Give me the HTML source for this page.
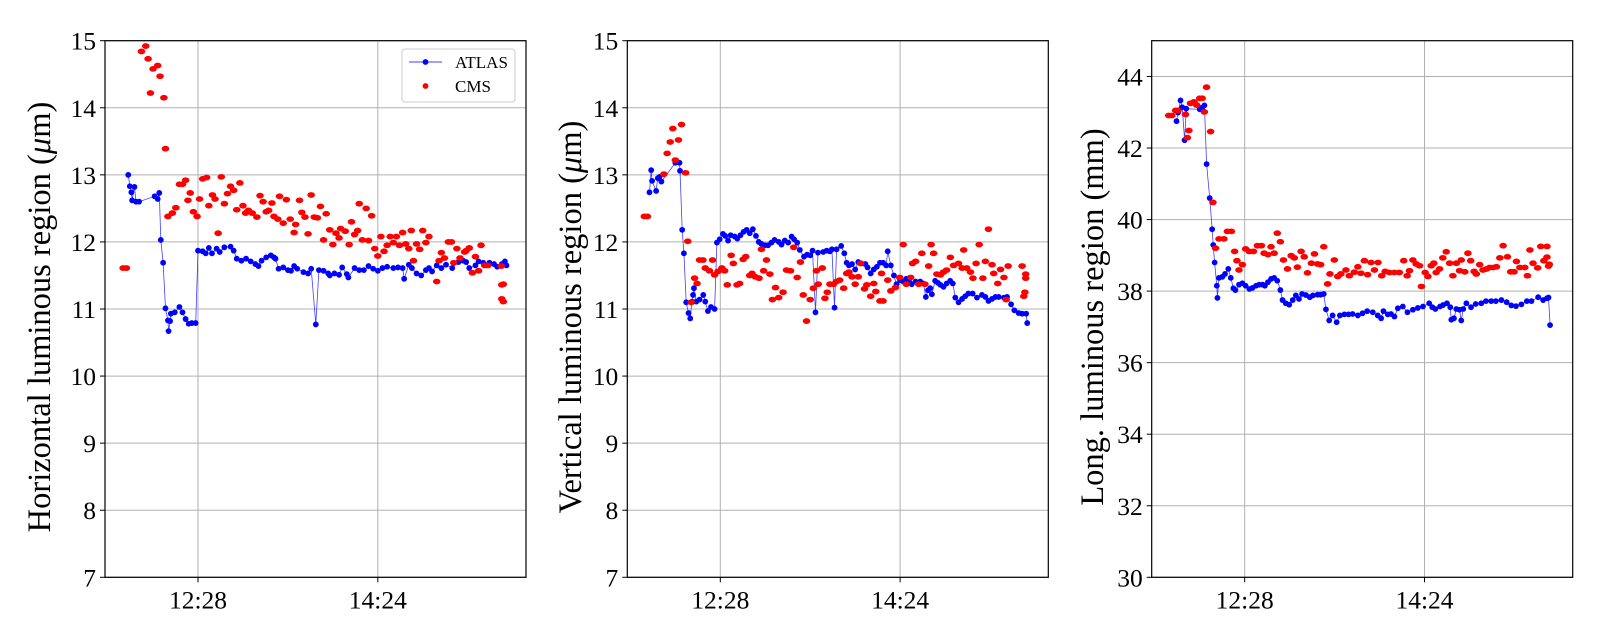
<!DOCTYPE html>
<html><head><meta charset="utf-8"><style>
html,body{margin:0;padding:0;background:#fff;}
svg{display:block;font-family:"Liberation Serif","DejaVu Serif",serif;}
</style></head><body>
<svg id="fig" width="1600" height="640" viewBox="0 0 1600 640"></svg>
<script>
// ---------- data (times in minutes since midnight) ----------
const xTickLabels = ["12:28","14:24"];
const xTickTimes = [748, 864];
const yTicksH = [7,8,9,10,11,12,13,14,15];
const yTicksV = [7,8,9,10,11,12,13,14,15];
const yTicksL = [30,32,34,36,38,40,42,44];

const hAtlasT = [703,704,705,705.5,707,708,710,720,722,723,724,725.5,727,728.6,729,730,730.5,733,736,738,740,742,744,746.5,748,751,753,755,757,760,762,765,769,771,773,776,779,782,785,787,789,792,795,797,798,800,803,806,808,810,812,816,819,821,824,826,829,832,833,836,839,841,844,845,849,852,855,858,861,864,867,870,874,877,880,881,884,886,889,892,895,897,899,902,905,908,912,916,919,921,923,927,929,932,936,939,941,944,946,947];
const hAtlasV = [13.0,12.83,12.74,12.62,12.82,12.6,12.6,12.68,12.64,12.73,12.03,11.69,11.01,10.83,10.67,10.82,10.93,10.95,11.03,10.95,10.85,10.78,10.79,10.79,11.87,11.86,11.83,11.91,11.83,11.9,11.85,11.92,11.93,11.87,11.75,11.72,11.75,11.71,11.67,11.64,11.72,11.77,11.8,11.77,11.75,11.6,11.62,11.58,11.57,11.64,11.6,11.55,11.53,11.6,10.77,11.58,11.57,11.53,11.5,11.53,11.51,11.62,11.52,11.47,11.61,11.58,11.58,11.64,11.6,11.57,11.61,11.63,11.61,11.62,11.61,11.45,11.66,11.61,11.53,11.5,11.58,11.61,11.56,11.65,11.61,11.66,11.61,11.7,11.72,11.7,11.61,11.65,11.71,11.69,11.69,11.67,11.63,11.67,11.71,11.65];
const hCmsT = [699.7,701.8,711.5,714.3,715.8,717.3,719,722,723.5,726,727,728.6,731.5,733.7,736,738,740,741.5,743,745,747.4,749,751,753.6,755,757.3,759,761,763,765,767,769,771,773,775,777,778.7,780.5,783,786,788,790,792,793.6,795.7,797,799.5,800.6,803,805,807.5,810,811,813.5,815,817,819,821,823,825,827,829,830.7,833,835,837,839,840,843,845.5,847,849,851,852,854,856.5,858,860,862,864,866,868,870,872,874,876,878,880,882,884,885.6,887,889,891,893,895,897,902,903.5,905,907,909.5,911.5,913,915,917,920,921,923,925,927,929,930.6,933,935,943.6,944,945,944,945];
const hCmsV = [11.61,11.61,14.84,14.92,14.73,14.22,14.58,14.63,14.47,14.15,13.39,12.38,12.43,12.51,12.86,12.86,12.92,12.62,12.73,12.45,12.38,12.64,12.94,12.96,12.54,12.7,12.64,12.13,12.97,12.57,12.72,12.83,12.77,12.48,12.88,12.54,12.43,12.47,12.43,12.37,12.69,12.6,12.45,12.47,12.58,12.38,12.34,12.68,12.28,12.63,12.34,12.14,12.26,12.62,12.44,12.37,12.12,12.7,12.37,12.36,12.53,12.03,12.42,12.18,11.96,12.13,12.06,12.2,12.16,11.96,12.3,12.11,12.17,12.57,12.03,12.5,12.02,12.39,11.9,11.79,12.08,11.86,11.95,12.08,11.99,12.08,11.95,12.14,11.97,11.9,12.17,11.72,11.97,11.89,12.17,11.99,12.08,11.41,11.72,11.84,11.76,12.0,12.0,11.69,11.9,11.76,11.85,11.87,11.91,11.54,11.78,11.57,11.95,11.65,11.65,11.64,11.36,11.37,11.15,11.11];

const vAtlasT = [702.3,703.4,704,706.6,707.7,708.8,710,719,721.7,722,723.4,724.5,726,727.5,728.6,729.7,730.4,731,732.5,734.6,737,738.3,740,742,744.3,745.8,747.6,749.7,751.2,753,754.7,757.3,759,761,763,765,767,769,771,772.8,774.5,776.7,778.8,781,783,785.7,787.5,789.6,791.8,794,795.6,797.6,799.3,802,804,806,807.5,809.4,811,814.4,816.6,818.7,820,821.7,823,826,828,829.5,831,833,835,837,839,841.6,843,845,847,849,851,853,855,856,858,860,861.7,864,866,868,870,871.5,874,877,879,880.6,882,883.4,884.5,886.6,888.4,890,892,894,896.3,898,899.6,901.7,904,906,908,910.8,913.6,916.8,919,921,923.3,925.5,927.6,931,933,935.6,937.7,940.5,942.7,945.3,946];
const vAtlasV = [12.74,13.07,12.91,12.76,12.95,12.97,12.9,13.18,13.18,13.06,12.18,11.83,11.1,10.94,10.86,11.11,11.21,11.31,11.11,11.14,11.21,11.11,10.97,11.03,11.0,11.99,12.04,12.12,12.09,12.02,12.1,12.08,12.05,12.1,12.15,12.18,12.13,12.19,12.09,12.0,11.97,11.95,11.95,11.99,12.03,12.0,11.96,12.02,11.99,12.08,12.04,11.99,11.88,11.78,11.81,11.8,11.87,10.95,11.84,11.85,11.87,11.86,11.89,11.02,11.89,11.94,11.83,11.69,11.65,11.67,11.59,11.7,11.68,11.67,11.62,11.53,11.59,11.63,11.69,11.69,11.65,11.86,11.65,11.5,11.37,11.43,11.41,11.45,11.4,11.37,11.41,11.41,11.38,11.18,11.28,11.31,11.22,11.42,11.39,11.36,11.33,11.38,11.42,11.38,11.17,11.1,11.15,11.19,11.23,11.23,11.17,11.21,11.18,11.12,11.15,11.18,11.18,11.17,11.18,11.07,10.98,10.94,10.93,10.93,10.79];
const vCmsT = [699,701,711.6,713.7,715.7,717.4,719,721,723,725.6,727,729.2,731.4,733,734.6,736.8,738.3,741,743,744.3,746.5,749,750.8,752.5,755,756.4,758.8,760.5,762.7,764.4,767,768.5,770.6,773,774.5,776,777.8,780,781.6,783.6,785.7,788.5,790.7,793.3,795.4,797.6,799.7,801.5,803.6,806,808,810,811.2,813.8,815.5,817,818.7,821,823,825,827.6,829.5,831,833,835,837,838.6,841,842.5,845,847,848.3,851,853,852,856,858,861,863.7,866,868,870.8,872,874,876,878,880,882.4,884,885.6,887.7,890,892,894,896.4,898.5,901.7,904,905,907,909.4,911,913,915,917.4,919,921,923.3,924.4,927,928.8,931,932.4,933.7,942.7,943.8,944.5,945,945];
const vCmsV = [12.38,12.38,13.01,13.32,13.49,13.69,13.22,13.52,13.75,13.03,12.01,11.1,11.46,11.38,11.73,11.73,11.61,11.57,11.73,11.51,11.56,11.61,11.57,11.36,11.8,11.68,11.36,11.38,11.74,11.78,11.5,11.53,11.48,11.46,11.89,11.57,11.73,11.52,11.14,11.32,11.17,11.25,11.58,11.57,11.92,11.47,11.7,11.21,10.82,11.14,11.31,11.57,11.37,11.61,11.16,11.25,11.37,11.37,11.41,11.43,11.31,11.53,11.55,11.48,11.37,11.48,11.68,11.3,11.36,11.19,11.38,11.26,11.12,11.12,11.53,11.43,11.27,11.32,11.47,11.96,11.37,11.47,11.68,11.71,11.37,11.83,11.37,11.64,11.96,11.83,11.52,11.51,11.55,11.58,11.77,11.65,11.68,11.61,11.88,11.61,11.55,11.46,11.68,11.96,11.46,11.71,12.19,11.66,11.53,11.38,11.59,11.47,11.14,11.64,11.64,11.19,11.25,11.46,11.52];

const lAtlasT = [704,705,706.6,707.7,709.2,710.3,719,720.6,722,723.4,725.4,727,727.7,728.6,730,730.4,731.4,733.6,735.3,737.4,739,740.7,742,744.3,746.5,748.6,751,753,755.3,757.4,759.6,761,763,765,767,769,771,772.4,774.5,776.7,779,781,783,785,787.5,790,792,795,797,799,800.4,802.5,804.7,807.3,809.4,812.3,815,817.6,821,824,827,830.6,833.8,836,837.5,840.3,842.4,844.6,846.8,850,853,856.5,859.7,863,867,869,871,874,876,878.5,880.6,881.3,883,884.5,886.6,887.7,889,891,894,897,900.6,903.6,907,910,913.6,917,920,923,926.5,930,933,937.3,940.5,943,944,945];
const lAtlasV = [42.75,42.99,43.33,43.14,42.22,43.1,43.08,43.13,43.19,41.55,40.6,39.73,39.29,38.8,38.15,37.81,38.37,38.4,38.48,38.62,38.37,38.08,38.03,38.18,38.22,38.15,38.06,38.09,38.15,38.18,38.18,38.15,38.25,38.34,38.37,38.29,38.03,37.75,37.66,37.62,37.75,37.88,37.78,37.92,37.89,37.83,37.88,37.9,37.9,37.92,37.49,37.18,37.32,37.13,37.32,37.35,37.35,37.36,37.32,37.38,37.44,37.41,37.32,37.24,37.44,37.35,37.36,37.29,37.52,37.57,37.41,37.48,37.53,37.57,37.66,37.55,37.5,37.57,37.61,37.66,37.55,37.2,37.24,37.5,37.48,37.18,37.5,37.66,37.55,37.64,37.66,37.72,37.72,37.72,37.75,37.69,37.6,37.58,37.63,37.72,37.72,37.83,37.75,37.8,37.82,37.05];
const lCmsT = [699,701,703.4,705,709.8,711,712,713,715.3,717,719,720.6,722,723.4,726,727.5,729.2,731.4,734.6,736.8,739.4,741.5,743,744.3,746.5,748.6,751,753.6,756.2,758.8,760.5,763,765,767,769,771,773,775.6,778,780,782,784.4,786.4,788.5,791,793,795,797,799,801.5,803,805.8,808,810,813.3,815.5,818.7,821,823,825.2,827.3,829.5,831.7,834,836.4,838.6,841.4,844.6,847.8,850.6,852.8,854.3,856.5,858.6,860.8,862,864.4,866.2,868.3,870,871.5,873.7,875.8,878,880.2,882.3,884.5,886.6,887.7,890,892,893.8,896,897.4,899.6,901.7,904,906,908.3,910.4,912.6,914.7,917.5,919.6,921.8,923.3,925.5,928.7,930.4,932,934,937,939,941,943,943,944,944.5];
const lCmsV = [42.91,42.91,43.05,43.05,42.94,42.29,42.49,43.25,43.29,43.2,43.39,43.39,43.01,43.7,42.46,40.48,39.2,39.46,39.46,39.67,39.67,39.11,38.85,38.59,38.74,39.18,39.11,39.11,39.27,39.27,39.06,39.02,39.24,39.06,39.62,39.38,38.87,38.62,38.99,38.93,38.67,39.11,38.96,38.51,38.78,39.04,38.76,38.74,39.24,38.2,38.48,38.87,38.41,38.48,38.59,38.43,38.53,38.68,38.5,38.85,38.46,38.8,38.59,38.8,38.43,38.55,38.52,38.52,38.52,38.85,38.43,38.57,38.87,38.76,38.71,38.13,38.52,38.41,38.71,38.78,38.52,38.62,38.93,39.1,38.78,38.43,38.78,38.57,38.87,38.54,39.06,38.85,38.55,38.48,38.74,38.59,38.62,38.66,38.66,38.68,38.93,39.27,38.96,38.54,38.54,38.83,38.66,38.66,38.43,39.15,38.78,38.65,39.25,38.85,39.25,38.95,38.7,38.75];

// ---------- rendering ----------
const NS = "http://www.w3.org/2000/svg";
const svg = document.getElementById("fig");
const T0 = 688, T1 = 959.6;
function mk(tag, attrs, parent){
  const e = document.createElementNS(NS, tag);
  for (const k in attrs) e.setAttribute(k, attrs[k]);
  (parent||svg).appendChild(e);
  return e;
}
function panel(id, left, yMin, yMax, yTicks, title, titleX, unitMu, aT, aV, cT, cV){
  const top = 40.7, bottom = 577.3, width = 421;
  const g = mk("g", {});
  
  
  const xs = t => left + (t - T0) / (T1 - T0) * width;
  const ys = v => bottom - (v - yMin) / (yMax - yMin) * (bottom - top);
  yTicks.forEach(v => {
    const y = ys(v);
    const l = mk("line", {x1:left, x2:left+width, y1:y, y2:y, stroke:"#b0b0b0", "stroke-width":1}, g);
    
    
    const tk = mk("line", {x1:left-5, x2:left, y1:y, y2:y, stroke:"#000", "stroke-width":1}, g);
    
    
    const tx = mk("text", {x:left-9, y:y+9, "text-anchor":"end", "font-size":25.5, fill:"#000"}, g);
    tx.textContent = v;
    
    
  });
  xTickTimes.forEach((t, i) => {
    const x = xs(t);
    const l = mk("line", {x1:x, x2:x, y1:top, y2:bottom, stroke:"#b0b0b0", "stroke-width":1}, g);
    
    
    const tk = mk("line", {x1:x, x2:x, y1:bottom, y2:bottom+5, stroke:"#000", "stroke-width":1}, g);
    
    
    const tx = mk("text", {x:x, y:bottom+31, "text-anchor":"middle", "font-size":25.5, fill:"#000"}, g);
    tx.textContent = xTickLabels[i];
    
    
  });
  const clip = id + "-clip";
  const cp = mk("clipPath", {id:clip}, g);
  mk("rect", {x:left, y:top, width:width, height:bottom-top}, cp);
  const dg = mk("g", {"clip-path":"url(#"+clip+")"}, g);
  const pts = aT.map((t,i) => xs(t).toFixed(1)+","+ys(aV[i]).toFixed(1)).join(" ");
  const pl = mk("polyline", {points:pts, fill:"none", stroke:"#0000ff", "stroke-width":0.8, "stroke-opacity":0.75}, dg);
  
  
  aT.forEach((t,i) => {
    const c = mk("circle", {cx:xs(t), cy:ys(aV[i]), r:2.9, fill:"#0000ff"}, dg);
    
    
  });
  cT.forEach((t,i) => {
    const c = mk("ellipse", {cx:xs(t), cy:ys(cV[i]), rx:3.8, ry:2.9, fill:"#ff0000"}, dg);
    
    
  });
  const fr = mk("rect", {x:left, y:top, width:width, height:bottom-top, fill:"none", stroke:"#000", "stroke-width":1.2}, g);
  
  
  const cy = (top+bottom)/2 + 8;
  const tt = mk("text", {x:titleX, y:cy, "text-anchor":"middle", "font-size":32.5, fill:"#000", transform:"rotate(-90 "+titleX+" "+cy+")"}, g);
  
  
  if (unitMu){
    tt.appendChild(document.createTextNode(title + " ("));
    const ts = mk("tspan", {"font-style":"italic"}, tt);
    ts.textContent = "μ";
    tt.appendChild(document.createTextNode("m)"));
  } else {
    tt.textContent = title;
  }
  return g;
}
panel("horizontal", 105, 7, 15, yTicksH, "Horizontal luminous region", 50, true, hAtlasT, hAtlasV, hCmsT, hCmsV);
panel("vertical", 627.3, 7, 15, yTicksV, "Vertical luminous region", 581, true, vAtlasT, vAtlasV, vCmsT, vCmsV);
panel("longitudinal", 1151.7, 30, 45, yTicksL, "Long. luminous region (mm)", 1103, false, lAtlasT, lAtlasV, lCmsT, lCmsV);

const lg = mk("g", {});


mk("rect", {x:402, y:49, width:113, height:53, rx:3, fill:"#fff", "fill-opacity":0.8, stroke:"#cccccc", "stroke-width":1}, lg);
const le1 = mk("g", {}, lg);


mk("line", {x1:409, x2:442, y1:62, y2:62, stroke:"#0000ff", "stroke-width":0.8}, le1);
mk("circle", {cx:425.5, cy:62, r:2.9, fill:"#0000ff"}, le1);
const t1 = mk("text", {x:455, y:68, "font-size":17, fill:"#000"}, le1);
t1.textContent = "ATLAS";
const le2 = mk("g", {}, lg);


mk("circle", {cx:425.5, cy:86, r:2.9, fill:"#ff0000"}, le2);
const t2 = mk("text", {x:455, y:92, "font-size":17, fill:"#000"}, le2);
t2.textContent = "CMS";
</script>
</body></html>
